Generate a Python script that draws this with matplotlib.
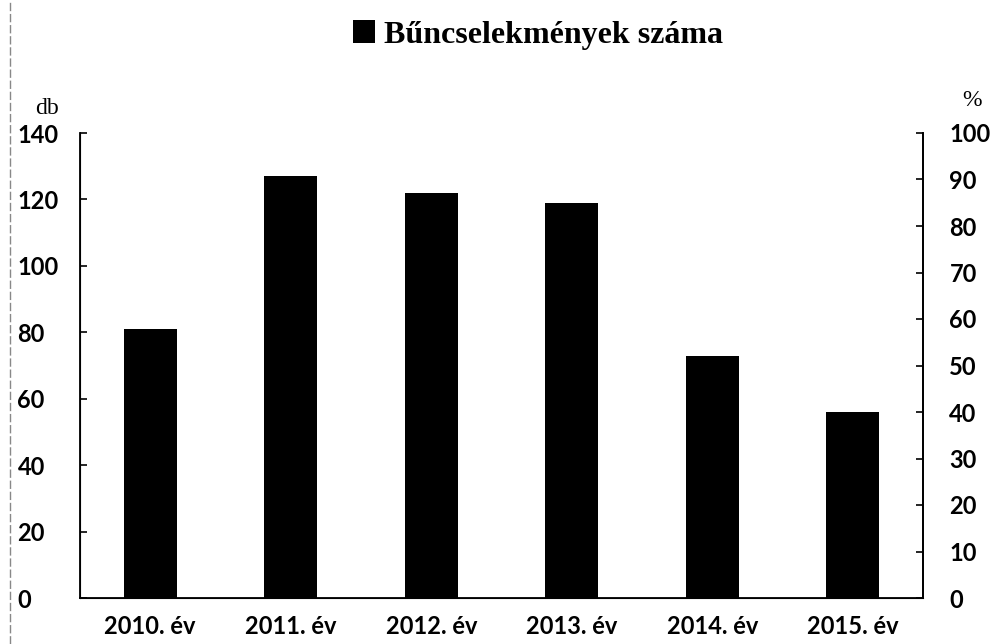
import matplotlib
matplotlib.use("Agg")
import matplotlib.pyplot as plt
from matplotlib.lines import Line2D
from matplotlib.font_manager import FontProperties

categories = ["2010. év", "2011. év", "2012. év", "2013. év", "2014. év", "2015. év"]
values = [81, 127, 122, 119, 73, 56]
series_name = "Bűncselekmények száma"
left_ticks = [0, 20, 40, 60, 80, 100, 120, 140]
right_ticks = [0, 10, 20, 30, 40, 50, 60, 70, 80, 90, 100]

fig = plt.figure(figsize=(9.91, 6.44), dpi=100)
ax = fig.add_axes([80/991, 46/644, (923-80)/991, (598-133)/644])

x = list(range(len(categories)))
bars = ax.bar(x, values, width=0.38, color="black", label=series_name)

ax.set_xlim(-0.5, len(categories) - 0.5)
ax.set_ylim(0, 140)
ax.set_yticks(left_ticks)
ax.set_xticks(x)
ax.set_xticklabels(categories)

tick_font = dict(family="Lato", weight="bold", size=17)
for lab in ax.get_yticklabels() + ax.get_xticklabels():
    lab.set_fontproperties(FontProperties(**tick_font))

ax.spines["top"].set_visible(False)
for s in ["left", "right", "bottom"]:
    ax.spines[s].set_linewidth(1.3)
ax.tick_params(axis="y", direction="in", length=5, width=1.2, pad=45)
ax.tick_params(axis="x", length=0, pad=12)
for lab in ax.get_yticklabels():
    lab.set_horizontalalignment("left")

ax2 = ax.twinx()
ax2.set_ylim(0, 100)
ax2.set_yticks(right_ticks)
ax2.spines["top"].set_visible(False)
ax2.spines["right"].set_linewidth(1.3)
ax2.tick_params(axis="y", direction="in", length=5, width=1.2, pad=19)
for lab in ax2.get_yticklabels():
    lab.set_fontproperties(FontProperties(**tick_font))

fig.text(35/991, 1 - 108/644, "db", family="Liberation Serif", size=17, ha="left", va="center")
fig.text(982/991, 1 - 100/644, "%", family="Liberation Serif", size=17, ha="right", va="center")

ax.legend(handles=[bars], loc="center", bbox_to_anchor=(538/991, 1 - 35/644), bbox_transform=fig.transFigure,
          frameon=False, handlelength=0.7, handleheight=0.7, handletextpad=0.3,
          prop=dict(family="Liberation Serif", weight="bold", size=23))

fig.add_artist(Line2D([10/991, 10/991], [0, 1], color="#888888", lw=1, linestyle=(0, (6, 2)), transform=fig.transFigure))

fig.savefig("out.png", dpi=100)
